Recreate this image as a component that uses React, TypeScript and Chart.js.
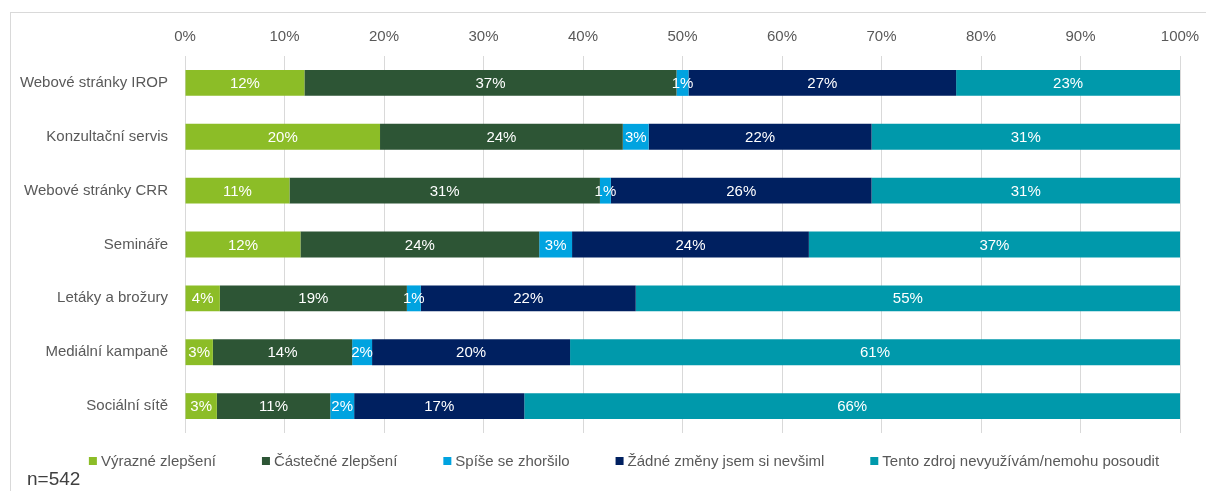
import React, { useEffect, useRef } from "react";
import { Chart, registerables } from "chart.js";

Chart.register(...registerables);

const categories = [
  "Webové stránky IROP",
  "Konzultační servis",
  "Webové stránky CRR",
  "Semináře",
  "Letáky a brožury",
  "Mediální kampaně",
  "Sociální sítě",
];

const seriesNames = [
  "Výrazné zlepšení",
  "Částečné zlepšení",
  "Spíše se zhoršilo",
  "Žádné změny jsem si nevšiml",
  "Tento zdroj nevyužívám/nemohu posoudit",
];

const vyrazneZlepseni = [12.0, 19.6, 10.5, 11.6, 3.5, 2.8, 3.2];
const castecneZlepseni = [37.4, 24.4, 31.2, 24.0, 18.8, 14.0, 11.4];
const spiseZhorsilo = [1.2, 2.6, 1.1, 3.3, 1.4, 2.0, 2.4];
const zadneZmeny = [26.9, 22.4, 26.2, 23.8, 21.6, 19.9, 17.1];
const nevyuzivam = [22.5, 31.0, 31.0, 37.3, 54.7, 61.3, 65.9];

const xTicks = [0, 10, 20, 30, 40, 50, 60, 70, 80, 90, 100];
const sampleNote = "n=542";

const colors = ["#8CBD27", "#2D5535", "#00A3E0", "#002060", "#0099AB"];
const FONT = "'Liberation Sans', Arial, sans-serif";
const TEXT = "#595959";

const overlayPlugin = {
  id: "overlay",
  beforeDraw(chart: any) {
    const ctx = chart.ctx;
    ctx.save();
    ctx.strokeStyle = "#D9D9D9";
    ctx.lineWidth = 1;
    ctx.beginPath();
    ctx.moveTo(10, 12.5);
    ctx.lineTo(chart.width, 12.5);
    ctx.moveTo(10.5, 12);
    ctx.lineTo(10.5, chart.height);
    ctx.stroke();
    ctx.restore();
  },
  afterDatasetsDraw(chart: any) {
    const ctx = chart.ctx;
    ctx.save();
    ctx.font = `15px ${FONT}`;
    ctx.fillStyle = "#FFFFFF";
    ctx.textAlign = "center";
    ctx.textBaseline = "middle";
    chart.data.datasets.forEach((ds: any, i: number) => {
      const meta = chart.getDatasetMeta(i);
      meta.data.forEach((bar: any, j: number) => {
        const v = ds.data[j];
        const cx = (bar.x + bar.base) / 2;
        ctx.fillText(`${Math.round(v)}%`, cx, bar.y + 1);
      });
    });
    ctx.restore();
  },
  afterDraw(chart: any) {
    const ctx = chart.ctx;
    ctx.save();
    ctx.font = `15px ${FONT}`;
    ctx.textBaseline = "middle";
    const box = 8;
    const gapText = 4;
    const gapItem = 46;
    const widths = chart.data.datasets.map(
      (ds: any) => box + gapText + ctx.measureText(ds.label).width
    );
    const total = widths.reduce((a: number, b: number) => a + b, 0) + gapItem * (widths.length - 1);
    let x = 624 - total / 2;
    const y = 461;
    chart.data.datasets.forEach((ds: any, i: number) => {
      ctx.fillStyle = ds.backgroundColor;
      ctx.fillRect(x, y - box / 2, box, box);
      ctx.fillStyle = TEXT;
      ctx.textAlign = "left";
      ctx.fillText(ds.label, x + box + gapText, y + 1);
      x += widths[i] + gapItem;
    });
    ctx.font = `19px ${FONT}`;
    ctx.fillStyle = "#404040";
    ctx.fillText(sampleNote, 27, 480);
    ctx.restore();
  },
};

export default function App() {
  const ref = useRef<HTMLCanvasElement | null>(null);
  useEffect(() => {
    if (!ref.current) return;
    const values = [vyrazneZlepseni, castecneZlepseni, spiseZhorsilo, zadneZmeny, nevyuzivam];
    const chart = new Chart(ref.current, {
      type: "bar",
      data: {
        labels: categories,
        datasets: seriesNames.map((name, i) => ({
          label: name,
          data: values[i],
          backgroundColor: colors[i],
          borderWidth: 0,
          categoryPercentage: 0.48,
          barPercentage: 1,
        })),
      },
      options: {
        indexAxis: "y",
        animation: false,
        responsive: true,
        maintainAspectRatio: false,
        layout: { padding: { top: 26, right: 26, bottom: 58, left: 0 } },
        plugins: {
          legend: { display: false },
          tooltip: { enabled: false },
        },
        scales: {
          x: {
            position: "top",
            stacked: true,
            min: 0,
            max: 100,
            afterBuildTicks: (scale: any) => {
              scale.ticks = xTicks.map((v) => ({ value: v }));
            },
            afterFit: (scale: any) => {
              scale.height = 30;
              scale.paddingLeft = 0;
              scale.paddingRight = 0;
            },
            ticks: {
              callback: (v: any) => `${v}%`,
              color: TEXT,
              font: { family: FONT, size: 15 },
              padding: 10,
              maxRotation: 0,
            },
            grid: { color: "#D9D9D9", drawTicks: false, lineWidth: 1 },
            border: { display: false },
          },
          y: {
            stacked: true,
            afterFit: (scale: any) => {
              scale.width = 185;
            },
            ticks: {
              color: TEXT,
              font: { family: FONT, size: 15 },
              padding: 17,
            },
            grid: { display: false, drawTicks: false },
            border: { display: false },
          },
        },
      },
      plugins: [overlayPlugin],
    });
    return () => chart.destroy();
  }, []);
  return (
    <div style={{ position: "absolute", left: 0, top: 0, width: 1206, height: 491, background: "#fff" }}>
      <canvas ref={ref} />
    </div>
  );
}
